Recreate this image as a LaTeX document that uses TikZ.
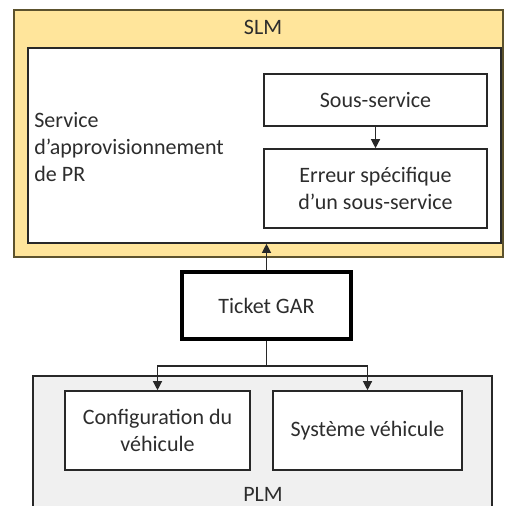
\documentclass[tikz,border=0pt]{standalone}
\usepackage{fontspec}
\setmainfont{Carlito}
\definecolor{SlmFill}{RGB}{255,229,155}
\definecolor{SlmLine}{RGB}{92,82,45}
\definecolor{PlmFill}{RGB}{240,240,240}
\definecolor{BoxLine}{RGB}{40,40,40}
\definecolor{TxtGray}{RGB}{45,45,45}
\usepackage{tikz}
\usetikzlibrary{
    arrows.meta,
    positioning,
    calc,
}

\begin{document}
\begin{tikzpicture}[
    x=0.5pt, y=-0.5pt,
    font=\fontsize{11}{13.5}\selectfont, text=TxtGray,
    btype/.style={rectangle, draw=BoxLine, line width=0.8pt, fill=white, inner sep=0pt, align=center},
    flow/.style={-{Triangle[length=4.5pt, width=4.5pt]}, line width=0.6pt, draw=BoxLine}
]
    \clip (0,0) rectangle (507,505);
    \useasboundingbox (0,0) rectangle (507,505);
    \fill[white] (0,0) rectangle (507,505);

    \node[rectangle, draw=SlmLine, line width=1.2pt, fill=SlmFill, minimum width=244.5pt, minimum height=123.5pt] (slm) at (258.5,133.5) {};
    \node (slmlabel) at (263,27) {SLM};
    \node[btype, minimum width=236.5pt, minimum height=97.5pt] (service) at (264.5,145.5) {};
    \node[align=left, anchor=west, inner sep=0pt] (servicelabel) at (34,147) {Service\\d’approvisionnement\\de PR};
    \node[btype, minimum width=111.5pt, minimum height=26pt] (sous) at (375.5,100) {Sous-service};
    \node[btype, minimum width=111.5pt, minimum height=39.5pt] (erreur) at (375.5,188.5) {Erreur spécifique\\d’un sous-service};

    \node[btype, line width=2pt, draw=black, minimum width=84.5pt, minimum height=33.5pt] (ticket) at (266.5,305.5) {Ticket GAR};

    \node[rectangle, draw=BoxLine, line width=0.8pt, fill=PlmFill, minimum width=229.5pt, minimum height=80pt] (plm) at (262.5,456) {};
    \node (plmlabel) at (263,494) {PLM};
    \node[btype, minimum width=92.5pt, minimum height=39.5pt] (config) at (157.5,430.5) {Configuration du\\véhicule};
    \node[btype, minimum width=94.5pt, minimum height=39.5pt] (systeme) at (367.5,430.5) {Système véhicule};

    \coordinate (split) at ($(ticket.south)+(0,25)$);
    \draw[flow] (sous) -- (erreur);
    \draw[flow] (ticket.north) -- (ticket.north |- service.south);
    \draw[line width=0.6pt, draw=BoxLine] (ticket.south) -- (split);
    \draw[flow] (split) -| (config.north);
    \draw[flow] (split) -| (systeme.north);
\end{tikzpicture}
\end{document}
